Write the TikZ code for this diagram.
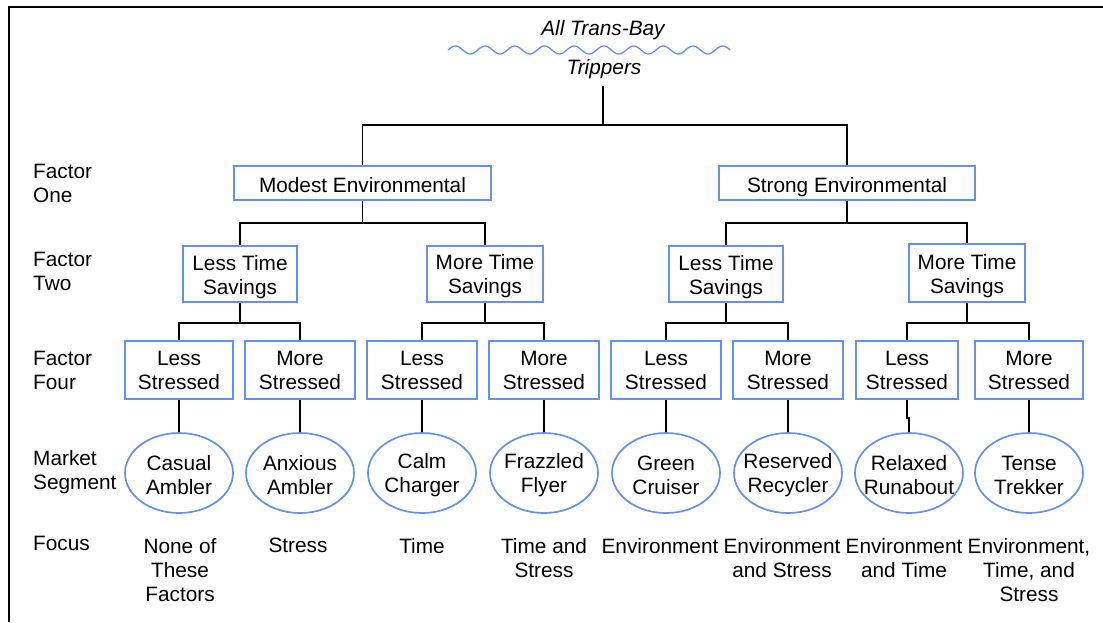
\documentclass[tikz,border=0pt]{standalone}
\usepackage{fontspec}
\setmainfont{Liberation Sans}
\usetikzlibrary{shapes.geometric}
\definecolor{bblue}{RGB}{100,145,240}
\begin{document}
\begin{tikzpicture}[x=1pt,y=-1pt,
  every node/.style={font=\fontsize{20.8}{24}\selectfont, inner sep=0pt, align=center},
  box/.style={draw=bblue, line width=1.7pt, minimum height=#1},
  seg/.style={ellipse, draw=bblue, line width=1.7pt, minimum width=108, minimum height=80},
  conn/.style={draw=black, line width=1.8pt},
  rowlab/.style={anchor=west, align=left},
  focustext/.style={anchor=north},
  ital/.style={font=\fontsize{20.8}{24}\selectfont\itshape}]
\useasboundingbox (0,0) rectangle (1103,622);
% frame
\draw[line width=2pt] (9,622) -- (9,7) -- (1103,7);
% title
\node[ital] (title) at (603,30) {All Trans-Bay};
\draw[bblue, line width=1.3pt, domain=0:282, samples=240, smooth] plot ({448+\x}, {50 - 4*sin(12.121*\x)});
\node[ital] (trip) at (604,69.5) {Trippers};
\coordinate (rt) at (603,86);
% row labels
\node[rowlab] (f1) at (33,183) {Factor\\One};
\node[rowlab] (f2) at (33,271) {Factor\\Two};
\node[rowlab] (f4) at (33,370) {Factor\\Four};
\node[rowlab] (ms) at (33,472) {Market\\Segment};
\node[rowlab] (fo) at (33,543) {Focus};
% level 1
\node[box=34, minimum width=257] (me) at (362.5,183) {};
\node[anchor=base] (met) at (362.5,192) {Modest Environmental};
\node[box=34, minimum width=256] (se) at (847,183) {};
\node[anchor=base] (set) at (847,192) {Strong Environmental};
% level 2
\node[box=56, minimum width=114] (lA) at (240,274) {};
\node (lAt) at (240,277) {Less Time\\Savings};
\node[box=56, minimum width=116] (mA) at (485,274) {};
\node (mAt) at (485,276) {More Time\\Savings};
\node[box=56, minimum width=114] (lB) at (726,274) {};
\node (lBt) at (726,277) {Less Time\\Savings};
\node[box=58, minimum width=116] (mB) at (967,273) {};
\node (mBt) at (967,276) {More Time\\Savings};
% level 3
\node[box=58, minimum width=108] (s1) at (179,370) {Less\\Stressed};
\node[box=58, minimum width=110] (s2) at (300,370) {More\\Stressed};
\node[box=58, minimum width=110] (s3) at (422,370) {Less\\Stressed};
\node[box=58, minimum width=110] (s4) at (544,370) {More\\Stressed};
\node[box=58, minimum width=110] (s5) at (666,370) {Less\\Stressed};
\node[box=58, minimum width=110] (s6) at (788,370) {More\\Stressed};
\node[box=58, minimum width=102] (s7) at (907,370) {Less\\Stressed};
\node[box=58, minimum width=108] (s8) at (1029,370) {More\\Stressed};
% segments
\node[seg] (e1) at (179,473) {};
\node (e1t) at (179,475) {Casual\\Ambler};
\node[seg] (e2) at (300,473) {};
\node (e2t) at (300,475) {Anxious\\Ambler};
\node[seg] (e3) at (422,473) {};
\node (e3t) at (422,475) {Calm\\Charger};
\node[seg] (e4) at (544,473) {};
\node (e4t) at (544,475) {Frazzled\\Flyer};
\node[seg] (e5) at (666,473) {};
\node (e5t) at (666,475) {Green\\Cruiser};
\node[seg] (e6) at (788,473) {};
\node (e6t) at (788,475) {Reserved\\Recycler};
\node[seg] (e7) at (909,473) {};
\node (e7t) at (909,475) {Relaxed\\Runabout};
\node[seg] (e8) at (1029,473) {};
\node (e8t) at (1029,475) {Tense\\Trekker};
% focus
\node[focustext] (t1) at (180,538) {None of\\These\\Factors};
\node[focustext] (t2) at (298,538) {Stress};
\node[focustext] (t3) at (422,538) {Time};
\node[focustext] (t4) at (544,538) {Time and\\Stress};
\node[focustext] (t5) at (660,538) {Environment};
\node[focustext] (t6) at (782,538) {Environment\\and Stress};
\node[focustext] (t7) at (904,538) {Environment\\and Time};
\node[focustext] (t8) at (1029,538) {Environment,\\Time, and\\Stress};
% connectors
\coordinate (b0) at (603,125);
\draw[conn] (rt) -- (b0) (b0) -| (me.north) (b0) -| (se.north);
\draw[conn] (me.south) -- ++(0,22) coordinate (b1) (b1) -| (lA.north) (b1) -| (mA.north);
\draw[conn] (se.south) -- ++(0,22) coordinate (b2) (b2) -| (lB.north) (b2) -| (mB.north);
\draw[conn] (lA.south) -- ++(0,20) coordinate (c1) (c1) -| (s1.north) (c1) -| (s2.north);
\draw[conn] (mA.south) -- ++(0,20) coordinate (c2) (c2) -| (s3.north) (c2) -| (s4.north);
\draw[conn] (lB.south) -- ++(0,20) coordinate (c3) (c3) -| (s5.north) (c3) -| (s6.north);
\draw[conn] (mB.south) -- ++(0,20) coordinate (c4) (c4) -| (s7.north) (c4) -| (s8.north);
\foreach \i in {1,2,3,4,5,6,8} {\draw[conn] (s\i.south) -- (e\i.north);}
\draw[conn] (s7.south) -- ++(0,18) -| (e7.north);
\end{tikzpicture}
\end{document}
